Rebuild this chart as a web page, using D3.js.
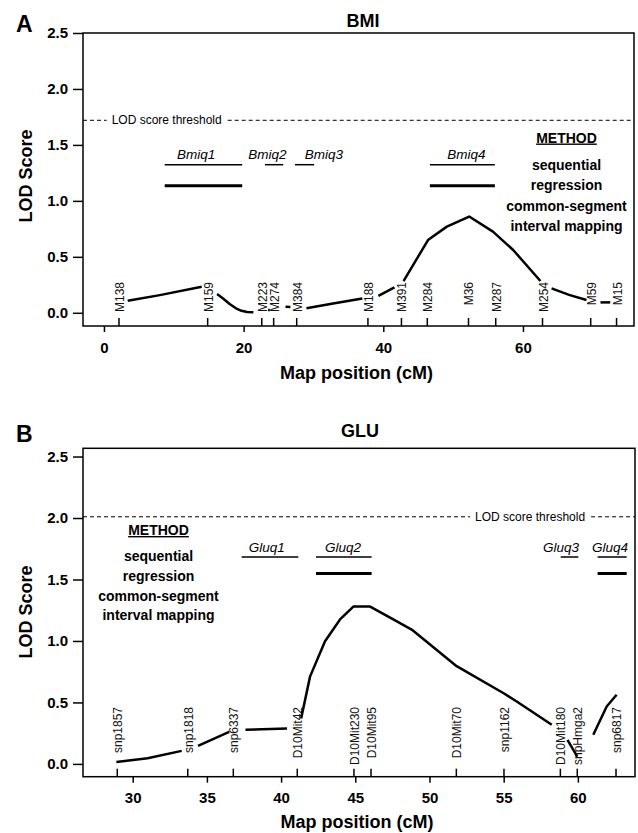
<!DOCTYPE html>
<html>
<head>
<meta charset="utf-8">
<script src="https://cdn.jsdelivr.net/npm/d3@7"></script>
<style>
  body { margin: 0; background: #fff; }
  svg { display: block; font-family: "Liberation Sans", Arial, sans-serif; }
  .tick line { stroke: #000; stroke-width: 1.5px; }
  .tick text { font-size: 15px; font-weight: bold; fill: #000; }
</style>
</head>
<body>
<div id="chart"></div>
<script>
// ---------- panel A : BMI ----------
var bmiMarkers   = ["M138","M159","M223","M274","M384","M188","M391","M284","M36","M287","M254","M59","M15"];
var bmiMarkerPos = [2.15, 14.85, 22.6, 24.3, 27.6, 37.8, 42.6, 46.3, 52.2, 56.1, 62.8, 69.7, 73.4];
// LOD curve pieces [cM, LOD] (broken around marker labels)
var bmiCurve = [
  [[3.4,0.107],[8.0,0.158],[14.0,0.232]],
  [[16.2,0.167],[17.1,0.125],[18.0,0.078],[18.9,0.04],[19.7,0.018],[20.5,0.007],[21.4,0.004]],
  [[23.5,0.024],[23.75,0.024]],
  [[26.0,0.054],[26.7,0.052]],
  [[29.0,0.04],[32.4,0.078],[37.0,0.128]],
  [[39.3,0.152],[41.6,0.227]],
  [[42.9,0.283],[46.4,0.65],[49.1,0.77],[52.3,0.86],[55.7,0.725],[58.6,0.561],[62.5,0.284]],
  [[64.1,0.218],[66.6,0.16],[69.1,0.114]],
  [[71.1,0.093],[72.5,0.093]]
];
var bmiQtl        = ["Bmiq1","Bmiq2","Bmiq3","Bmiq4"];
var bmiQtlStart   = [8.7, 23.05, 27.35, 46.67];
var bmiQtlEnd     = [19.8, 25.67, 30.1, 55.98];
var bmiQtlLabelAt = [13.2, 23.4, 31.5, 51.9];
var bmiQtlCommon  = [true, false, false, true];
var bmiThreshold  = 1.72;
var bmiYTicks = [0, 0.5, 1, 1.5, 2, 2.5];
var bmiXTicks = [0, 20, 40, 60];

// ---------- panel B : GLU ----------
var gluMarkers   = ["snp1857","snp1818","snp6337","D10Mit42","D10Mit230","D10Mit95","D10Mit70","snp1162","D10Mit180","snpHmga2","snp6817"];
var gluMarkerPos = [28.96, 33.71, 36.78, 41.09, 44.91, 46.06, 51.81, 55.02, 58.82, 59.96, 62.57];
var gluCurve = [
  [[28.9,0.015],[31.0,0.046],[33.3,0.106]],
  [[34.4,0.147],[36.5,0.26]],
  [[37.6,0.277],[40.4,0.288]],
  [[41.35,0.37],[41.95,0.71],[42.96,0.998],[43.97,1.175],[44.87,1.28],[46.0,1.28],[47.56,1.175],[48.8,1.093],[51.83,0.795],[54.97,0.577],[55.88,0.508],[58.24,0.318]],
  [[59.3,0.196],[59.96,0.06]],
  [[61.04,0.237],[61.94,0.467],[62.61,0.563]]
];
var gluQtl        = ["Gluq1","Gluq2","Gluq3","Gluq4"];
var gluQtlStart   = [37.34, 42.35, 58.84, 61.33];
var gluQtlEnd     = [41.16, 46.1, 60.03, 63.29];
var gluQtlLabelAt = [39.03, 44.17, 58.86, 62.16];
var gluQtlCommon  = [false, true, false, true];
var gluThreshold  = 2.01;
var gluYTicks = [0, 0.5, 1, 1.5, 2, 2.5];
var gluXTicks = [30, 35, 40, 45, 50, 55, 60];

var methodLines = ["sequential", "regression", "common-segment", "interval mapping"];

var svg = d3.select("#chart").append("svg")
    .attr("width", 638)
    .attr("height", 833);

var panels = [
  { letter: "A", title: "BMI", titleX: 363, titleY: 26.5, letterY: 31.5,
    box: {left: 83, right: 634, top: 33, bottom: 326},
    xDomain: [-3.0, 75.9], yDomain: [-0.118, 2.5],
    xTicks: bmiXTicks, yTicks: bmiYTicks,
    markers: bmiMarkers, markerPos: bmiMarkerPos, markerTop: 282,
    curve: bmiCurve,
    qtl: bmiQtl, qtlStart: bmiQtlStart, qtlEnd: bmiQtlEnd, qtlLabelAt: bmiQtlLabelAt, qtlCommon: bmiQtlCommon,
    thinY: 164.7, thickY: 185.7, qtlLabelY: 158.5,
    threshold: bmiThreshold, threshLabelAt: 1.1,
    methodX: 566.5, methodY: [142.5, 170, 190, 211, 230.5],
    yLabelY: 176, xLabelY: 379 },
  { letter: "B", title: "GLU", titleX: 360, titleY: 436.5, letterY: 441.5,
    box: {left: 83, right: 635, top: 448.3, bottom: 776.7},
    xDomain: [26.65, 63.85], yDomain: [-0.104, 2.567],
    xTicks: gluXTicks, yTicks: gluYTicks,
    markers: gluMarkers, markerPos: gluMarkerPos, markerTop: 707,
    curve: gluCurve,
    qtl: gluQtl, qtlStart: gluQtlStart, qtlEnd: gluQtlEnd, qtlLabelAt: gluQtlLabelAt, qtlCommon: gluQtlCommon,
    thinY: 557, thickY: 573.5, qtlLabelY: 551.5,
    threshold: gluThreshold, threshLabelAt: 53.07,
    methodX: 158.5, methodY: [535, 561, 580.5, 600.5, 620],
    yLabelY: 612, xLabelY: 828 }
];

panels.forEach(drawPanel);

function drawPanel(p) {
  var b = p.box;
  var x = d3.scaleLinear().domain(p.xDomain).range([b.left, b.right]);
  var y = d3.scaleLinear().domain(p.yDomain).range([b.bottom, b.top]);
  var g = svg.append("g");

  // panel letter + title
  g.append("text").attr("x", 16).attr("y", p.letterY)
      .style("font-size", "23px").style("font-weight", "bold").text(p.letter);
  g.append("text").attr("x", p.titleX).attr("y", p.titleY).attr("text-anchor", "middle")
      .style("font-size", "18px").style("font-weight", "bold").text(p.title);

  // axes
  g.append("g")
      .attr("transform", "translate(" + b.left + ",0)")
      .call(d3.axisLeft(y).tickValues(p.yTicks).tickFormat(d3.format(".1f"))
              .tickSize(10).tickSizeOuter(0).tickPadding(5))
    .select(".domain").remove();
  g.append("g")
      .attr("transform", "translate(0," + b.bottom + ")")
      .call(d3.axisBottom(x).tickValues(p.xTicks).tickFormat(d3.format("d"))
              .tickSize(6).tickSizeOuter(0).tickPadding(10))
    .select(".domain").remove();

  // frame
  g.append("rect")
      .attr("x", b.left).attr("y", b.top)
      .attr("width", b.right - b.left).attr("height", b.bottom - b.top)
      .attr("fill", "none").attr("stroke", "#000").attr("stroke-width", 1.5);

  // axis titles
  g.append("text")
      .attr("transform", "translate(32," + p.yLabelY + ") rotate(-90)")
      .attr("text-anchor", "middle")
      .style("font-size", "18px").style("font-weight", "bold").text("LOD Score");
  g.append("text")
      .attr("x", (b.left + b.right) / 2 - 2).attr("y", p.xLabelY)
      .attr("text-anchor", "middle")
      .style("font-size", "18px").style("font-weight", "bold").text("Map position (cM)");

  // threshold line with its label
  var ty = y(p.threshold);
  var tl = g.append("text")
      .attr("x", x(p.threshLabelAt)).attr("y", ty + 4)
      .style("font-size", "12px").text("LOD score threshold");
  var tw = tl.node().getComputedTextLength();
  var tx = x(p.threshLabelAt);
  [[b.left, tx - 5], [tx + tw + 6, b.right]].forEach(function(s) {
    g.append("line")
        .attr("x1", s[0]).attr("x2", s[1]).attr("y1", ty).attr("y2", ty)
        .attr("stroke", "#000").attr("stroke-width", 1)
        .attr("stroke-dasharray", "4,3");
  });

  // marker ticks and names
  var mk = g.selectAll(".marker").data(p.markers).enter().append("g").attr("class", "marker");
  mk.append("line")
      .attr("x1", function(d, i) { return x(p.markerPos[i]); })
      .attr("x2", function(d, i) { return x(p.markerPos[i]); })
      .attr("y1", b.bottom).attr("y2", b.bottom - 8)
      .attr("stroke", "#000").attr("stroke-width", 1.5);
  mk.append("text")
      .attr("transform", function(d, i) {
        return "translate(" + (x(p.markerPos[i]) + 5) + "," + p.markerTop + ") rotate(-90)";
      })
      .attr("text-anchor", "end")
      .style("font-size", "12px").style("fill", "#111")
      .text(function(d) { return d; });

  // LOD curve
  var line = d3.line()
      .x(function(d) { return x(d[0]); })
      .y(function(d) { return y(d[1]); });
  g.selectAll(".lod").data(p.curve).enter().append("path")
      .attr("class", "lod")
      .attr("d", line)
      .attr("fill", "none").attr("stroke", "#000")
      .attr("stroke-width", 2.5).attr("stroke-linejoin", "round");

  // QTL intervals
  p.qtl.forEach(function(name, i) {
    var x0 = x(p.qtlStart[i]), x1 = x(p.qtlEnd[i]);
    g.append("line").attr("x1", x0).attr("x2", x1).attr("y1", p.thinY).attr("y2", p.thinY)
        .attr("stroke", "#000").attr("stroke-width", 1.5);
    if (p.qtlCommon[i]) {
      g.append("line").attr("x1", x0).attr("x2", x1).attr("y1", p.thickY).attr("y2", p.thickY)
          .attr("stroke", "#000").attr("stroke-width", 3);
    }
    g.append("text")
        .attr("x", x(p.qtlLabelAt[i])).attr("y", p.qtlLabelY)
        .attr("text-anchor", "middle")
        .style("font-size", "13.5px").style("font-style", "italic")
        .text(name);
  });

  // method legend
  g.append("text")
      .attr("x", p.methodX).attr("y", p.methodY[0]).attr("text-anchor", "middle")
      .style("font-size", "14px").style("font-weight", "bold")
      .style("text-decoration", "underline")
      .text("METHOD");
  methodLines.forEach(function(t, i) {
    g.append("text")
        .attr("x", p.methodX).attr("y", p.methodY[i + 1]).attr("text-anchor", "middle")
        .style("font-size", "14px").style("font-weight", "bold")
        .text(t);
  });
}
</script>
</body>
</html>
